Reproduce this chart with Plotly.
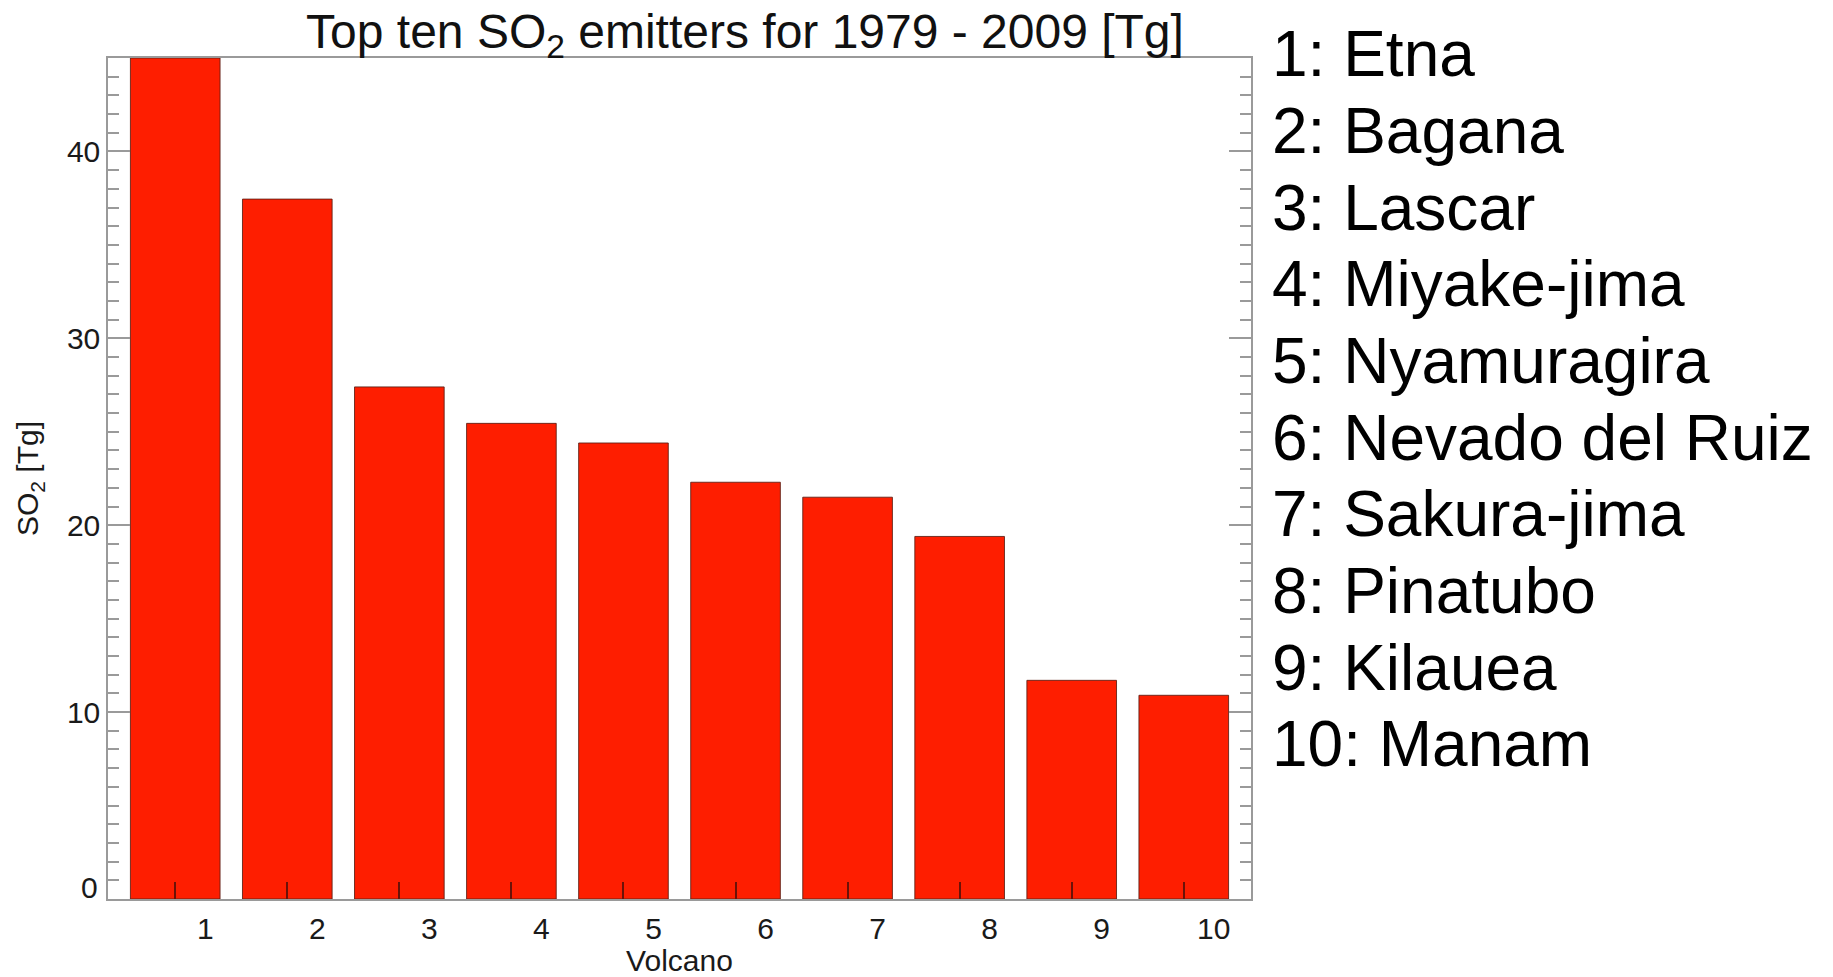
import plotly.graph_objects as go

# ---- data ----
ranks = [1, 2, 3, 4, 5, 6, 7, 8, 9, 10]
volcanoes = ["Etna", "Bagana", "Lascar", "Miyake-jima", "Nyamuragira",
             "Nevado del Ruiz", "Sakura-jima", "Pinatubo", "Kilauea", "Manam"]
so2_tg = [45.0, 37.45, 27.4, 25.45, 24.4, 22.3, 21.5, 19.4, 11.7, 10.9]
y_tick_vals = [10, 20, 30, 40]
y_tick_text = ["10", "20", "30", "40"]

FONT = "Liberation Sans, Arial, Helvetica, sans-serif"
W, H = 1833, 977
ML, MR, MT, MB = 108, 582, 58, 78
PW = W - ML - MR
PH = H - MT - MB

fig = go.Figure(
    go.Bar(
        x=ranks,
        y=so2_tg,
        width=0.8,
        marker=dict(color="#FE1E00", line=dict(color="rgba(90,30,20,0.85)", width=1)),
        hovertemplate="%{x}: %{y}<extra></extra>",
    )
)

axis_grey = "#9a9a9a"

fig.update_layout(
    template="none",
    width=W,
    height=H,
    margin=dict(l=ML, r=MR, t=MT, b=MB, pad=0, autoexpand=False),
    paper_bgcolor="white",
    plot_bgcolor="white",
    showlegend=False,
    font=dict(family=FONT, color="#1a1a1a"),
    title=dict(
        text="Top ten SO<sub>2</sub> emitters for 1979 - 2009 [Tg]",
        font=dict(family=FONT, size=48, color="#111111"),
        x=745 / W,
        xref="container",
        xanchor="center",
        y=1 - 31.5 / H,
        yref="container",
        yanchor="middle",
    ),
    xaxis=dict(
        automargin=False,
        range=[0.4, 10.6],
        tickmode="array",
        tickvals=ranks,
        ticktext=[str(r) for r in ranks],
        ticks="inside",
        ticklen=17,
        tickwidth=1.5,
        tickcolor="#6b1208",
        showline=True,
        linecolor=axis_grey,
        linewidth=1.5,
        mirror=True,
        showgrid=False,
        zeroline=False,
        tickfont=dict(family=FONT, size=30, color="#1a1a1a"),
        ticklabelshift=30,
        ticklabelstandoff=2,
        title=dict(text="Volcano", font=dict(family=FONT, size=30, color="#1a1a1a"), standoff=7),
    ),
    yaxis=dict(
        automargin=False,
        range=[0, 45],
        tickmode="array",
        tickvals=y_tick_vals,
        ticktext=y_tick_text,
        ticks="inside",
        ticklen=22,
        tickwidth=1.5,
        tickcolor=axis_grey,
        showline=True,
        linecolor=axis_grey,
        linewidth=1.5,
        mirror="ticks",
        showgrid=False,
        zeroline=False,
        tickfont=dict(family=FONT, size=30, color="#1a1a1a"),
        ticklabelstandoff=0,
        minor=dict(dtick=1, tick0=0, ticks="inside", ticklen=11, tickwidth=1.5,
                   tickcolor=axis_grey, showgrid=False),
        title=dict(text="SO<sub>2</sub> [Tg]", font=dict(family=FONT, size=30, color="#1a1a1a"), standoff=19),
    ),
)

# "0" label of the y axis (sits slightly above the axis bottom in the original)
fig.add_annotation(
    text="0", xref="paper", yref="y", x=0, y=0.63, xanchor="right", yanchor="middle",
    xshift=-8, showarrow=False, font=dict(family=FONT, size=30, color="#1a1a1a"),
)

# volcano key on the right
line_pitch = 76.67
first_mid = 54.2
for i, (r, name) in enumerate(zip(ranks, volcanoes)):
    py = first_mid + i * line_pitch
    fig.add_annotation(
        text=f"{r}: {name}",
        xref="paper", yref="paper",
        x=(1270 - ML) / PW,
        y=(MT + PH - py) / PH,
        xanchor="left", yanchor="middle",
        showarrow=False,
        font=dict(family=FONT, size=64, color="#000000"),
    )

fig.write_html("out.html")
